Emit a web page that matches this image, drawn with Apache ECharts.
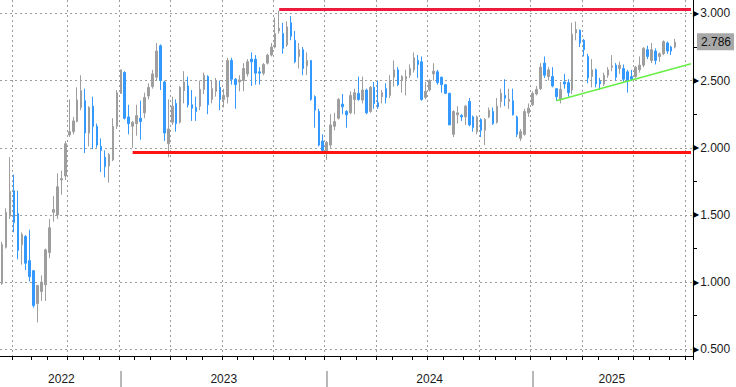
<!DOCTYPE html>
<html>
<head>
<meta charset="UTF-8">
<title>weekly candles</title>
<style>
html, body { margin: 0; padding: 0; background: #fff; }
#chart { width: 736px; height: 387px; }
</style>
</head>
<body>
<div id="chart"></div>
<script src="https://cdn.jsdelivr.net/npm/echarts@6/dist/echarts.min.js"></script>
<script>
// weekly bars, first one dated 2022-06-10, axis runs a few empty weeks past the last bar
var weekStart = Date.UTC(2022, 5, 10);
var weekCount = 175;

var opens = [
  0.99,1.26,1.49,1.68,1.51,1.28,1.34,1.16,1.085,0.84,
  0.93,0.98,1.22,1.52,1.50,1.76,1.79,2.095,2.12,2.195,
  2.30,2.35,2.11,2.31,2.16,2.01,1.93,1.865,1.91,2.16,
  2.405,2.56,2.23,2.16,2.18,2.22,2.26,2.385,2.455,2.525,
  2.76,2.49,2.03,2.19,2.33,2.19,2.425,2.46,2.32,2.30,
  2.31,2.435,2.53,2.36,2.42,2.45,2.36,2.38,2.65,2.51,
  2.49,2.50,2.55,2.66,2.66,2.565,2.555,2.63,2.69,2.75,
  2.87,2.85,2.765,2.93,2.80,2.68,2.73,2.61,2.65,2.38,
  2.27,2.05,1.97,2.02,2.16,2.22,2.325,2.27,2.26,2.36,
  2.405,2.355,2.43,2.27,2.45,2.335,2.38,2.44,2.39,2.525,
  2.58,2.50,2.51,2.54,2.58,2.65,2.64,2.375,2.43,2.55,
  2.565,2.525,2.47,2.405,2.10,2.245,2.24,2.23,2.345,2.23,
  2.12,2.21,2.13,2.23,2.27,2.19,2.345,2.39,2.345,2.35,
  2.23,2.07,2.10,2.26,2.32,2.40,2.44,2.63,2.53,2.53,
  2.44,2.36,2.49,2.485,2.43,2.855,2.875,2.80,2.68,2.53,
  2.58,2.495,2.475,2.54,2.60,2.615,2.59,2.59,2.565,2.53,
  2.53,2.58,2.615,2.73,2.65,2.72,2.68,2.70,2.78,2.75,
  2.75
];
var closes = [
  1.28,1.52,1.675,1.445,1.236,1.354,1.14,1.04,0.825,0.975,
  1.00,1.24,1.405,1.54,1.71,1.77,2.03,2.12,2.20,2.356,
  2.425,2.11,2.30,2.16,2.02,1.98,1.86,1.95,2.16,2.41,
  2.58,2.22,2.18,2.19,2.24,2.195,2.375,2.45,2.55,2.72,
  2.50,2.11,2.14,2.31,2.18,2.45,2.49,2.32,2.295,2.27,
  2.435,2.54,2.32,2.44,2.50,2.36,2.39,2.65,2.51,2.47,
  2.505,2.59,2.64,2.64,2.555,2.555,2.62,2.69,2.75,2.85,
  2.89,2.74,2.90,2.83,2.64,2.73,2.59,2.65,2.36,2.28,
  2.02,1.98,2.04,2.17,2.195,2.36,2.305,2.245,2.39,2.41,
  2.36,2.43,2.26,2.45,2.33,2.305,2.41,2.375,2.50,2.58,
  2.47,2.53,2.53,2.59,2.67,2.62,2.36,2.42,2.50,2.57,
  2.485,2.47,2.405,2.17,2.27,2.26,2.23,2.31,2.17,2.15,
  2.23,2.13,2.21,2.28,2.18,2.31,2.405,2.37,2.36,2.245,
  2.10,2.12,2.27,2.295,2.405,2.435,2.60,2.54,2.58,2.46,
  2.38,2.435,2.475,2.41,2.845,2.88,2.78,2.73,2.52,2.58,
  2.475,2.475,2.54,2.58,2.61,2.525,2.615,2.51,2.50,2.51,
  2.60,2.615,2.74,2.68,2.73,2.65,2.70,2.79,2.72,2.72,
  2.786
];
var lows = [
  0.98,1.25,1.47,1.37,1.17,1.13,1.09,1.005,0.81,0.70,
  0.86,0.86,1.18,1.45,1.47,1.65,1.76,2.08,2.10,2.19,
  2.28,1.96,2.01,1.99,2.00,1.82,1.78,1.74,1.90,2.14,
  2.40,2.21,2.10,2.00,2.09,2.06,2.22,2.36,2.44,2.50,
  2.43,2.05,1.93,2.17,2.12,2.18,2.33,2.30,2.20,2.20,
  2.28,2.40,2.25,2.33,2.38,2.28,2.30,2.33,2.47,2.29,
  2.42,2.42,2.53,2.46,2.47,2.47,2.54,2.62,2.68,2.74,
  2.85,2.70,2.75,2.80,2.63,2.59,2.54,2.54,2.35,2.15,
  2.01,1.96,1.91,2.00,2.13,2.21,2.25,2.15,2.25,2.25,
  2.35,2.33,2.25,2.26,2.29,2.29,2.33,2.33,2.37,2.455,
  2.46,2.41,2.39,2.52,2.56,2.52,2.35,2.36,2.42,2.50,
  2.47,2.41,2.40,2.17,2.08,2.18,2.20,2.17,2.16,2.12,
  2.10,2.08,2.02,2.22,2.17,2.18,2.30,2.31,2.29,2.24,
  2.08,2.05,2.09,2.23,2.31,2.39,2.43,2.52,2.50,2.45,
  2.35,2.33,2.44,2.38,2.40,2.80,2.75,2.68,2.48,2.45,
  2.45,2.43,2.46,2.52,2.57,2.50,2.55,2.49,2.41,2.50,
  2.52,2.56,2.60,2.66,2.63,2.62,2.64,2.69,2.70,2.69,
  2.74
];
var highs = [
  1.30,1.55,1.93,1.80,1.68,1.37,1.35,1.39,1.09,0.98,
  1.05,1.25,1.47,1.64,1.81,1.83,2.05,2.36,2.23,2.45,
  2.54,2.44,2.31,2.38,2.18,2.07,1.98,1.96,2.22,2.43,
  2.58,2.57,2.32,2.20,2.32,2.35,2.41,2.48,2.58,2.78,
  2.77,2.50,2.36,2.38,2.36,2.46,2.57,2.53,2.43,2.38,
  2.50,2.56,2.54,2.50,2.52,2.50,2.44,2.67,2.67,2.52,
  2.54,2.63,2.66,2.71,2.69,2.60,2.63,2.70,2.78,2.97,
  3.02,2.93,2.94,2.98,2.87,2.78,2.75,2.71,2.65,2.39,
  2.29,2.10,2.05,2.25,2.26,2.37,2.40,2.28,2.42,2.44,
  2.53,2.53,2.44,2.46,2.49,2.50,2.43,2.48,2.54,2.65,
  2.60,2.54,2.58,2.62,2.71,2.69,2.68,2.49,2.51,2.63,
  2.58,2.53,2.47,2.41,2.28,2.31,2.25,2.32,2.37,2.24,
  2.24,2.22,2.22,2.30,2.30,2.37,2.44,2.51,2.44,2.44,
  2.24,2.14,2.29,2.33,2.42,2.46,2.63,2.68,2.60,2.60,
  2.44,2.49,2.55,2.51,2.93,2.94,2.88,2.81,2.70,2.66,
  2.59,2.52,2.56,2.60,2.69,2.63,2.64,2.62,2.58,2.58,
  2.61,2.68,2.75,2.76,2.78,2.74,2.71,2.80,2.79,2.76,
  2.81
];

// drawn levels: [week index, value]
var resistance = [70, 3.032];
var support = [33, 1.966];
var trendStart = [140, 2.35];
var trendEnd = [174, 2.625];
var lastPrice = closes[closes.length - 1];

var weeks = [];
for (var i = 0; i < weekCount; i++) {
  weeks.push(new Date(weekStart + i * 7 * 86400000).toISOString().slice(0, 10));
}

var candles = [];
for (var i = 0; i < opens.length; i++) {
  candles.push([opens[i], closes[i], lows[i], highs[i]]);
}

function newMonth(i) {
  return i > 0 && weeks[i].slice(0, 7) !== weeks[i - 1].slice(0, 7);
}
function newQuarter(i) {
  var m = +weeks[i].slice(5, 7);
  return newMonth(i) && (m % 3 === 1);
}
function newYear(i) {
  return i > 0 && weeks[i].slice(0, 4) !== weeks[i - 1].slice(0, 4);
}

// year label sits in the middle of the part of that year that is visible
var yearLabelAt = {};
var from = 0;
for (var i = 1; i <= weekCount; i++) {
  if (i === weekCount || newYear(i)) {
    yearLabelAt[Math.round((from + i - 1) / 2)] = true;
    from = i;
  }
}

var chart = echarts.init(document.getElementById('chart'), null, { renderer: 'svg' });

var dotted = { color: '#9c9c9c', width: 1, type: [2, 3] };

chart.setOption({
  animation: false,
  backgroundColor: '#ffffff',
  textStyle: { fontFamily: 'Liberation Sans, Arial, sans-serif' },
  grid: { left: 0, right: 43, top: 0, bottom: 31, containLabel: false },
  xAxis: [
    {
      // main axis: quarter ticks + quarter grid, year labels
      type: 'category',
      data: weeks,
      boundaryGap: true,
      axisLine: { show: true, lineStyle: { color: '#000', width: 1 } },
      axisTick: { show: true, length: 4, interval: function (i) { return newQuarter(i); }, lineStyle: { color: '#000' } },
      splitLine: { show: true, interval: function (i) { return newQuarter(i); }, lineStyle: dotted },
      axisLabel: {
        interval: function (i) { return !!yearLabelAt[i]; },
        formatter: function (v) { return v.slice(0, 4); },
        color: '#1a1a1a', fontSize: 12, margin: 17
      }
    },
    {
      // year separators under the axis
      type: 'category',
      data: weeks,
      position: 'bottom',
      offset: 15,
      axisLine: { show: false },
      axisLabel: { show: false },
      splitLine: { show: false },
      axisTick: { show: true, alignWithLabel: true, length: 16, interval: function (i) { return newYear(i); }, lineStyle: { color: '#b8b8b8', width: 2 } }
    },
    {
      // monthly ticks
      type: 'category',
      data: weeks,
      position: 'bottom',
      axisLine: { show: false },
      axisLabel: { show: false },
      splitLine: { show: false },
      axisTick: { show: true, length: 4, interval: function (i) { return newMonth(i); }, lineStyle: { color: '#000' } }
    }
  ],
  yAxis: {
    type: 'value',
    position: 'right',
    min: 0.45,
    max: 3.1,
    splitNumber: 5,
    axisLine: { show: true, lineStyle: { color: '#000', width: 1 } },
    axisTick: { show: false },
    minorTick: { show: true, splitNumber: 2, length: 4, lineStyle: { color: '#000' } },
    splitLine: { show: true, showMinLine: false, showMaxLine: false, lineStyle: dotted },
    axisLabel: {
      margin: 0,
      formatter: function (v) {
        if (Math.abs(v * 2 - Math.round(v * 2)) > 1e-6) return '';
        return '{t|\u25B6}{v|' + v.toFixed(3) + '}';
      },
      rich: {
        t: { fontSize: 8, color: '#000', fontFamily: 'DejaVu Sans' },
        v: { fontSize: 12, color: '#1a1a1a', padding: [0, 0, 0, 1] }
      }
    }
  },
  series: [
    {
      type: 'candlestick',
      data: candles,
      barWidth: 2,
      itemStyle: {
        color: '#9e9e9e', borderColor: '#9e9e9e',
        color0: '#3399ff', borderColor0: '#3399ff',
        borderWidth: 1
      },
      markLine: {
        symbol: 'none',
        silent: true,
        animation: false,
        label: { show: false },
        data: [
          [
            { coord: [weeks[resistance[0]], resistance[1]], lineStyle: { color: '#ee1c3c', width: 3, type: 'solid' } },
            { coord: [weeks[weekCount - 1], resistance[1]] }
          ],
          [
            { coord: [weeks[support[0]], support[1]], lineStyle: { color: '#ff1212', width: 3, type: 'solid' } },
            { coord: [weeks[weekCount - 1], support[1]] }
          ],
          [
            { coord: [weeks[trendStart[0]], trendStart[1]], lineStyle: { color: '#66ee44', width: 1.5, type: 'solid' } },
            { coord: [weeks[trendEnd[0]], trendEnd[1]] }
          ],
          {
            yAxis: lastPrice,
            lineStyle: { color: 'rgba(0,0,0,0)', width: 0 },
            label: {
              show: true, position: 'end', distance: 4,
              formatter: lastPrice.toFixed(3),
              backgroundColor: '#a8a8a8', color: '#111',
              fontSize: 12, padding: [3, 3, 2, 4]
            }
          }
        ]
      }
    }
  ]
});
</script>
</body>
</html>
